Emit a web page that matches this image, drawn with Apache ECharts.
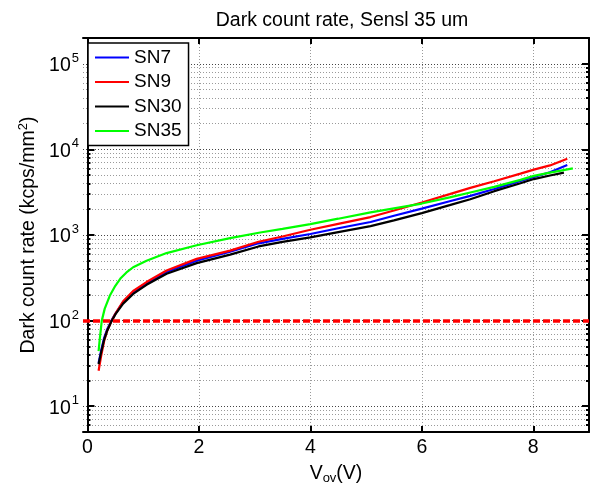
<!DOCTYPE html>
<html><head><meta charset="utf-8">
<script src="https://cdn.jsdelivr.net/npm/echarts@6/dist/echarts.min.js"></script>
<style>html,body{margin:0;padding:0;background:#fff}#c{width:591px;height:490px}</style>
</head><body><div id="c"></div>
<script>
const titleText = 'Dark count rate, Sensl 35 um';
const seriesNames = ['SN7', 'SN9', 'SN30', 'SN35'];
const seriesColors = ['#0000ff', '#ff0000', '#000000', '#00ff00'];

const vSN7 = [0.2, 0.25, 0.3, 0.35, 0.43, 0.5, 0.64, 0.82, 1.06, 1.42, 1.96, 2.56, 3.07, 3.5, 4.0, 4.5, 5.08, 5.5, 6.0, 6.5, 6.87, 7.3, 7.77, 8.01, 8.3, 8.61];
const rateSN7 = [32, 46, 63, 78, 100, 120, 165, 216, 275, 370, 502, 640, 800, 900, 1028, 1200, 1420, 1680, 2030, 2480, 2862, 3450, 4277, 4750, 5400, 6559];

const vSN9 = [0.2, 0.25, 0.3, 0.35, 0.43, 0.5, 0.64, 0.82, 1.06, 1.42, 1.96, 2.56, 3.07, 3.5, 4.0, 4.5, 5.08, 5.5, 6.0, 6.5, 6.87, 7.3, 7.77, 8.01, 8.3, 8.61];
const rateSN9 = [26, 40, 58, 75, 98, 120, 168, 222, 282, 385, 526, 657, 835, 960, 1153, 1350, 1620, 1930, 2400, 3000, 3550, 4250, 5213, 5800, 6500, 7785];

const vSN30 = [0.2, 0.25, 0.3, 0.35, 0.43, 0.5, 0.64, 0.82, 1.06, 1.42, 1.96, 2.56, 3.07, 3.5, 4.0, 4.5, 5.08, 5.5, 6.0, 6.5, 6.87, 7.3, 7.77, 8.01, 8.3, 8.55];
const rateSN30 = [31, 44, 60, 75, 98, 118, 158, 205, 262, 352, 469, 590, 735, 830, 940, 1080, 1270, 1480, 1800, 2230, 2620, 3250, 4017, 4500, 4950, 5357];

const vSN35 = [0.2, 0.22, 0.257, 0.31, 0.4, 0.5, 0.6, 0.7, 0.82, 1.06, 1.42, 1.96, 2.56, 3.1, 3.5, 4.0, 4.5, 5.08, 5.5, 6.0, 6.5, 6.87, 7.3, 7.77, 8.01, 8.3, 8.71];
const rateSN35 = [44, 60, 100, 138, 195, 255, 315, 365, 420, 500, 615, 760, 920, 1070, 1180, 1342, 1550, 1835, 2050, 2330, 2750, 3135, 3650, 4400, 4900, 5350, 6010];

const thresholdRate = 100;
const xTickValues = [0, 2, 4, 6, 8];
const yMajorValues = [10, 100, 1000, 10000, 100000];
const yAllGridValues = [5, 6, 7, 8, 9, 10, 20, 30, 40, 50, 60, 70, 80, 90, 100, 200, 300, 400, 500, 600, 700, 800, 900,
  1000, 2000, 3000, 4000, 5000, 6000, 7000, 8000, 9000, 10000, 20000, 30000, 40000, 50000, 60000, 70000, 80000, 90000,
  100000, 200000];
const xMin = -0.08, xMax = 9, yMin = 5, yMax = 200000;

const FONT = 'Liberation Sans, Arial, sans-serif';
const vList = [vSN7, vSN9, vSN30, vSN35];
const rList = [rateSN7, rateSN9, rateSN30, rateSN35];

function supFmt(v) {
  const e = Math.round(Math.log10(v));
  return '{b|10}{s|' + e + '}';
}

const gridLine = { show: true, lineStyle: { color: '#9a9a9a', type: [1, 2], width: 1 } };
const majorGridLine = { show: true, lineStyle: { color: '#444', type: [1, 2], width: 1 } };

function yAx(opts) {
  return Object.assign({
    type: 'log', min: yMin, max: yMax, logBase: 10,
    axisLine: { show: false },
    axisLabel: { show: false },
    splitLine: { show: false },
    minorTick: { show: false },
    axisTick: { show: false }
  }, opts);
}

const series = seriesNames.map((n, i) => ({
  name: n, type: 'line', showSymbol: false, symbol: 'none',
  data: vList[i].map((v, j) => [v, rList[i][j]]),
  lineStyle: { color: seriesColors[i], width: 2.2 },
  itemStyle: { color: seriesColors[i] },
  z: 3,
  animation: false
}));
series[0].markLine = {
  silent: true, symbol: 'none', animation: false,
  label: { show: false },
  lineStyle: { color: '#ff0000', type: [7, 3], width: 3.5 },
  data: [{ yAxis: thresholdRate }]
};

const chart = echarts.init(document.getElementById('c'), null, { renderer: 'canvas' });
chart.setOption({
  animation: false,
  backgroundColor: '#fff',
  textStyle: { fontFamily: FONT },
  title: {
    text: titleText, left: 337, top: 6, textAlign: 'center',
    textStyle: { fontFamily: FONT, fontSize: 19.5, fontWeight: 'normal', color: '#000' }
  },
  legend: {
    data: seriesNames, orient: 'vertical', left: 88, top: 43,
    backgroundColor: '#fff', borderColor: '#000', borderWidth: 1.5,
    padding: [5, 7, 5, 7], itemGap: 5.5, itemWidth: 34, itemHeight: 2, icon: 'rect',
    textStyle: { fontFamily: FONT, fontSize: 19, color: '#000' }
  },
  grid: { left: 83, right: 2, top: 38, bottom: 56, containLabel: false },
  xAxis: [{
    type: 'value', min: xMin, max: xMax, position: 'bottom',
    axisLine: { show: true, onZero: false, lineStyle: { color: '#000', width: 2 } },
    axisTick: { show: true, inside: true, length: 6, lineStyle: { color: '#000', width: 2 }, customValues: xTickValues },
    axisLabel: { show: true, customValues: xTickValues, margin: 6, fontFamily: FONT, fontSize: 19.5, color: '#000' },
    splitLine: gridLine,
    name: '{a|V}{sub|ov}{a|(V)}', nameLocation: 'middle', nameGap: 30,
    nameTextStyle: { rich: { a: { fontFamily: FONT, fontSize: 19.5, color: '#000' }, sub: { fontFamily: FONT, fontSize: 13, color: '#000', padding: [10, 0, 0, 0] } } }
  }, {
    type: 'value', min: xMin, max: xMax, position: 'top',
    axisLine: { show: true, onZero: false, lineStyle: { color: '#000', width: 2 } },
    axisTick: { show: true, inside: true, length: 6, lineStyle: { color: '#000', width: 2 }, customValues: xTickValues },
    axisLabel: { show: false },
    splitLine: { show: false }
  }],
  yAxis: [
    yAx({
      position: 'left',
      axisLine: { show: true, lineStyle: { color: '#000', width: 2 } },
      axisTick: { show: true, inside: true, length: 3, lineStyle: { color: '#000', width: 2 }, customValues: yAllGridValues },
      splitLine: gridLine,
      axisLabel: {
        show: true, customValues: yMajorValues, margin: 4, formatter: supFmt,
        rich: {
          b: { fontFamily: FONT, fontSize: 19.5, color: '#000', verticalAlign: 'bottom', lineHeight: 24 },
          s: { fontFamily: FONT, fontSize: 13, color: '#000', verticalAlign: 'top', lineHeight: 24, padding: [0, 0, 0, 1] }
        }
      },
      name: 'Dark count rate (kcps/mm{s|2})', nameLocation: 'middle', nameGap: 36,
      nameTextStyle: { rich: { s: { fontFamily: FONT, fontSize: 13, color: '#000', padding: [0, 0, 10, 0] } }, fontFamily: FONT, fontSize: 19.5, color: '#000' }
    }),
    yAx({
      position: 'left',
      axisTick: { show: true, inside: true, length: 7, lineStyle: { color: '#000', width: 2 }, customValues: yMajorValues },
      splitLine: majorGridLine
    }),
    yAx({
      position: 'right',
      axisLine: { show: true, lineStyle: { color: '#000', width: 2 } },
      axisTick: { show: true, inside: true, length: 3, lineStyle: { color: '#000', width: 2 }, customValues: yAllGridValues }
    }),
    yAx({
      position: 'right',
      axisTick: { show: true, inside: true, length: 7, lineStyle: { color: '#000', width: 2 }, customValues: yMajorValues }
    })
  ],
  series: series
});
</script></body></html>
